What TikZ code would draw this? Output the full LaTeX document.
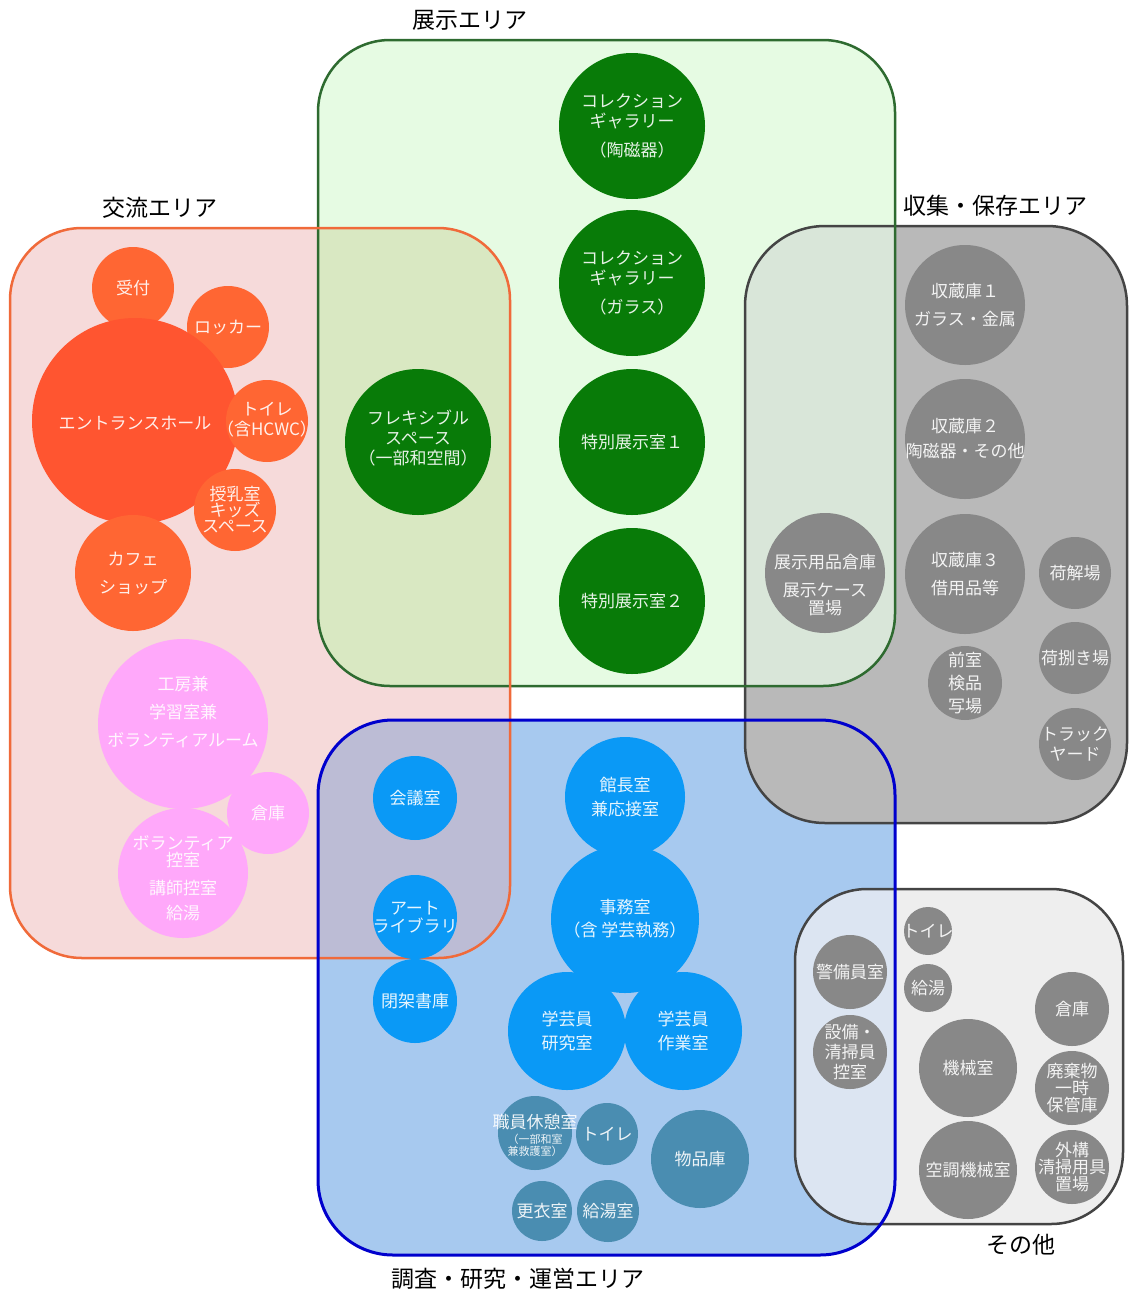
\documentclass[tikz,border=0pt]{standalone}
\usepackage{fontspec}
\setmainfont{Noto Sans CJK JP}
\definecolor{cGA}{HTML}{E6FBE3}
\definecolor{cGB}{HTML}{2E6B30}
\definecolor{cOA}{HTML}{F6DADA}
\definecolor{cOB}{HTML}{F06A3A}
\definecolor{cOG}{HTML}{D9E8C2}
\definecolor{cYA}{HTML}{B9B9B9}
\definecolor{cYB}{HTML}{444444}
\definecolor{cYG}{HTML}{D9E6D9}
\definecolor{cBA}{HTML}{A7C9EF}
\definecolor{cBB}{HTML}{0000CD}
\definecolor{cOBl}{HTML}{BCBCD5}
\definecolor{cLA}{HTML}{EEEEEE}
\definecolor{cLB}{HTML}{DCE5F2}
\definecolor{cGc}{HTML}{087B08}
\definecolor{cOc}{HTML}{FF6633}
\definecolor{cOe}{HTML}{FF5530}
\definecolor{cPk}{HTML}{FFA8FA}
\definecolor{cGy}{HTML}{888888}
\definecolor{cBc}{HTML}{0A99F6}
\definecolor{cTl}{HTML}{4A8DB1}
\newcommand\bub[7]{%
  \node[bubble, fill=#5, minimum size=#4*2pt] (#1) at (#2,#3) {};
  \node[bubtext] (#1-t) at ([yshift=#6pt]#1.center) {#7};}
\newcommand\smallline{\fontsize{11}{12}\selectfont}
\begin{document}
\begin{tikzpicture}[x=1pt,y=-1pt,
  bubble/.style={circle,inner sep=0pt,draw=none},
  bubtext/.style={text=white,text opacity=0.9,align=center,inner sep=0pt,font=\fontsize{17}{20}\selectfont},
  arealabel/.style={font=\fontsize{23}{26}\selectfont,text=black,inner sep=0pt},
  areaborder/.style={line width=2.5pt}]
\fill[white] (0,0) rectangle (1129,1296);
\useasboundingbox (0,0) rectangle (1129,1296);
% area fills
\fill[cBA, rounded corners=75pt] (318,720) rectangle (895,1255);
\fill[cYA, rounded corners=80pt] (745,226) rectangle (1127,823);
\fill[cLA, rounded corners=72pt] (795,889) rectangle (1123,1224);
\fill[cGA, rounded corners=72pt] (318,40) rectangle (895,686);
\fill[cOA, rounded corners=72pt] (10,228) rectangle (510,958);
% overlaps
\begin{scope}
  \clip[rounded corners=72pt] (318,40) rectangle (895,686);
  \fill[cOG, rounded corners=72pt] (10,228) rectangle (510,958);
  \fill[cYG, rounded corners=80pt] (745,226) rectangle (1127,823);
\end{scope}
\begin{scope}
  \clip[rounded corners=75pt] (318,720) rectangle (895,1255);
  \fill[cOBl, rounded corners=72pt] (10,228) rectangle (510,958);
  \fill[cLB, rounded corners=72pt] (795,889) rectangle (1123,1224);
\end{scope}
% borders
\draw[areaborder, cYB, rounded corners=80pt] (745,226) rectangle (1127,823);
\draw[areaborder, cYB, rounded corners=72pt] (795,889) rectangle (1123,1224);
\draw[areaborder, cGB, rounded corners=72pt] (318,40) rectangle (895,686);
\draw[areaborder, cOB, rounded corners=72pt] (10,228) rectangle (510,958);
\draw[areaborder, cBB, line width=3pt, rounded corners=75pt] (318,720) rectangle (895,1255);
% labels
\node[arealabel] (lG) at (470,20) {展示エリア};
\node[arealabel] (lO) at (160,208) {交流エリア};
\node[arealabel] (lY) at (995,206) {収集・保存エリア};
\node[arealabel] (lB) at (518,1279) {調査・研究・運営エリア};
\node[arealabel] (lL) at (1021,1245) {その他};
% exhibition
\bub{cg1}{632}{126}{73}{cGc}{0}{コレクション\\ギャラリー\\[9pt]（陶磁器）}
\bub{cg2}{632}{283}{73}{cGc}{0}{コレクション\\ギャラリー\\[9pt]（ガラス）}
\bub{sp1}{632}{442}{73}{cGc}{0}{特別展示室１}
\bub{sp2}{632}{601}{73}{cGc}{0}{特別展示室２}
\bub{flex}{418}{442}{73}{cGc}{4}{フレキシブル\\スペース\\（一部和空間）}
% exchange
\bub{uke}{133}{288}{41}{cOc}{0}{受付}
\bub{lock}{228}{327}{41}{cOc}{0}{ロッカー}
\bub{ent}{135}{421}{103}{cOe}{-2}{エントランスホール}
\bub{wc1}{267}{421}{41}{cOc}{1}{トイレ\\（含HCWC）}
\bub{kids}{235}{510}{41}{cOc}{0}{授乳室\\[-4pt]キッズ\\[-4pt]スペース}
\bub{cafe}{133}{573}{58}{cOc}{0}{カフェ\\[8pt]ショップ}
\bub{kobo}{183}{724}{85}{cPk}{12}{工房兼\\[8pt]学習室兼\\[8pt]ボランティアルーム}
\bub{soko1}{268}{813}{41}{cPk}{0}{倉庫}
\bub{vol}{183}{873}{65}{cPk}{-5}{ボランティア\\[-3pt]控室\\[8pt]講師控室\\[5pt]給湯}
% storage
\bub{st1}{965}{305}{60}{cGy}{0}{収蔵庫１\\[8pt]ガラス・金属}
\bub{st2}{965}{439}{60}{cGy}{0}{収蔵庫２\\[5pt]陶磁器・その他}
\bub{st3}{965}{574}{60}{cGy}{0}{収蔵庫３\\[8pt]借用品等}
\bub{case}{825}{573}{60}{cGy}{-12}{展示用品倉庫\\[8pt]展示ケース\\[-2pt]置場}
\bub{nitoki}{1075}{573}{36}{cGy}{0}{荷解場}
\bub{nisaba}{1075}{658}{36}{cGy}{0}{荷捌き場}
\bub{zen}{965}{683}{37}{cGy}{0}{前室\\[3pt]検品\\[3pt]写場}
\bub{truck}{1075}{744}{36}{cGy}{0}{トラック\\ヤード}
% research
\bub{kaigi}{415}{798}{42}{cBc}{0}{会議室}
\bub{art}{415}{917}{42}{cBc}{0}{アート\\[-2pt]ライブラリ}
\bub{heika}{415}{1001}{42}{cBc}{0}{閉架書庫}
\bub{kancho}{625}{797}{60}{cBc}{0}{館長室\\[4pt]兼応接室}
\bub{jimu}{625}{919}{74}{cBc}{0}{事務室\\[3pt]（含 学芸執務）}
\bub{ken}{567}{1031}{59}{cBc}{0}{学芸員\\[4pt]研究室}
\bub{sagyo}{683}{1031}{59}{cBc}{0}{学芸員\\[4pt]作業室}
\bub{kyu}{535}{1133}{37}{cTl}{-2}{職員休憩室\\[-5pt]\smallline （一部和室\\[-8pt]\smallline 兼救護室）}
\bub{wc2}{607}{1134}{31}{cTl}{0}{トイレ}
\bub{buppin}{700}{1159}{49}{cTl}{0}{物品庫}
\bub{koui}{542}{1211}{30}{cTl}{0}{更衣室}
\bub{kyuto}{608}{1211}{31}{cTl}{0}{給湯室}
% others
\bub{wc3}{928}{931}{24}{cGy}{0}{トイレ}
\bub{kyuto2}{928}{988}{24}{cGy}{0}{給湯}
\bub{keibi}{850}{972}{37}{cGy}{0}{警備員室}
\bub{setsubi}{850}{1052}{37}{cGy}{0}{設備・\\清掃員\\控室}
\bub{soko2}{1072}{1009}{37}{cGy}{0}{倉庫}
\bub{kikai}{968}{1068}{49}{cGy}{0}{機械室}
\bub{haiki}{1072}{1088}{37}{cGy}{0}{廃棄物\\[-3pt]一時\\[-3pt]保管庫}
\bub{kucho}{968}{1170}{49}{cGy}{0}{空調機械室}
\bub{gaiko}{1072}{1167}{37}{cGy}{0}{外構\\[-3pt]清掃用具\\[-3pt]置場}
\end{tikzpicture}
\end{document}
